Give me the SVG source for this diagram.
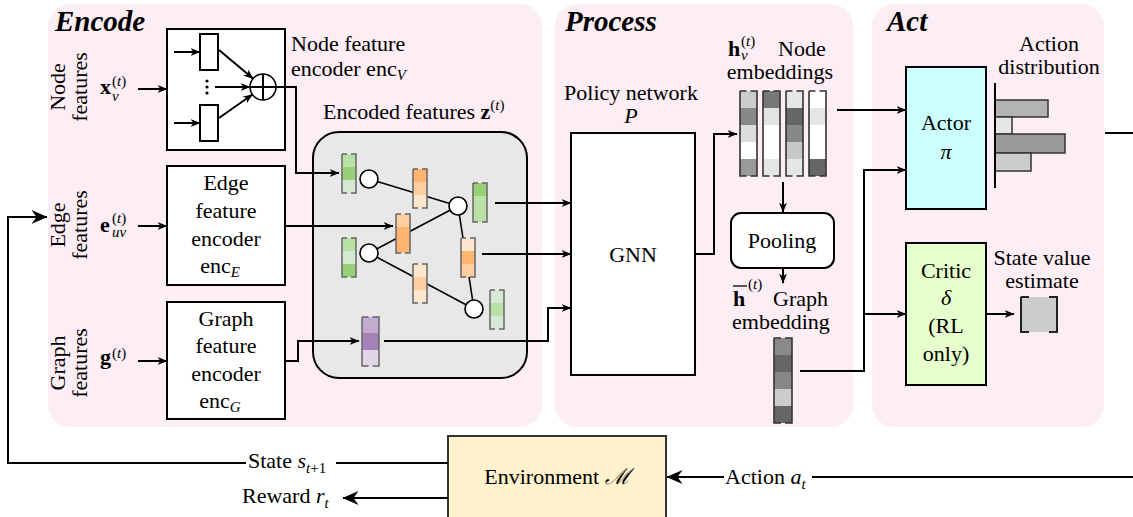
<svg xmlns="http://www.w3.org/2000/svg" width="1133" height="517" viewBox="0 0 1133 517" font-family="'Liberation Serif', 'Times New Roman', Tinos, 'DejaVu Serif', serif">
<style>
text{font-family:'Liberation Serif','Times New Roman',Tinos,'DejaVu Serif',serif;font-size:22px;fill:#000}
.title{font-size:29px;font-weight:bold;font-style:italic}
.panel{fill:#fdedf4}
.box{fill:#fff;stroke:#000;stroke-width:2}
.ln{fill:none;stroke:#000;stroke-width:2}
.edge{stroke:#000;stroke-width:1.6}
.nd{fill:#fff;stroke:#000;stroke-width:1.6}
.vb{fill:none;stroke:#666;stroke-width:1.5;stroke-dasharray:5 4 49 4 44 0}
.vbp{fill:none;stroke:#666;stroke-width:1.5;stroke-dasharray:6.5 4 62 4 55.5 0}
.vbe{fill:none;stroke:#333;stroke-width:1.6;stroke-dasharray:6.5 4 98 4 91.5 0}
.vbg{fill:none;stroke:#333;stroke-width:1.6;stroke-dasharray:7 4 99 4 92 0}
.it{font-style:italic}
.b{font-weight:bold}
.s{font-size:15px}
</style>
<defs>
<marker id="arr" viewBox="0 0 10 10" refX="9.5" refY="5" markerWidth="10" markerHeight="10" markerUnits="userSpaceOnUse" orient="auto">
<path d="M0,1 L10,5 L0,9 L3,5 z" fill="#000"/>
</marker>
<marker id="big" viewBox="0 0 16 16" refX="15.5" refY="8" markerWidth="16" markerHeight="16" markerUnits="userSpaceOnUse" orient="auto">
<path d="M0,1 L16,8 L0,15 L5,8 z" fill="#000"/>
</marker>
</defs>

<g id="panels">
<rect class="panel" x="48" y="4" width="494" height="423" rx="22"/>
<rect class="panel" x="555" y="4" width="298" height="423" rx="22"/>
<rect class="panel" x="872" y="4" width="232" height="423" rx="22"/>
<text class="title" x="55" y="31">Encode</text>
<text class="title" x="565" y="31">Process</text>
<text class="title" x="887" y="31">Act</text>
</g>

<g id="inputs">
<text transform="translate(65,87) rotate(-90)" text-anchor="middle">Node</text>
<text transform="translate(87,87) rotate(-90)" text-anchor="middle">features</text>
<text transform="translate(65,225) rotate(-90)" text-anchor="middle">Edge</text>
<text transform="translate(87,225) rotate(-90)" text-anchor="middle">features</text>
<text transform="translate(65,363) rotate(-90)" text-anchor="middle">Graph</text>
<text transform="translate(87,363) rotate(-90)" text-anchor="middle">features</text>
<text x="100" y="94"><tspan class="b">x</tspan><tspan class="s" x="112" y="86">(<tspan class="it">t</tspan>)</tspan><tspan class="s it" x="112" y="101">v</tspan></text>
<text x="100" y="232"><tspan class="b">e</tspan><tspan class="s" x="112" y="223">(<tspan class="it">t</tspan>)</tspan><tspan class="s it" x="112" y="237">uv</tspan></text>
<text x="100" y="364"><tspan class="b">g</tspan><tspan class="s" x="112" y="358">(<tspan class="it">t</tspan>)</tspan></text>
</g>

<g id="node-encoder">
<rect class="box" x="167" y="29" width="118" height="121"/>
<rect class="box" x="200" y="34" width="18" height="36"/>
<rect class="box" x="200" y="105" width="18" height="36"/>
<circle cx="207" cy="81" r="1.6"/><circle cx="207" cy="87" r="1.6"/><circle cx="207" cy="93" r="1.6"/>
<circle class="nd" cx="263" cy="87" r="13" stroke-width="2"/>
<path class="ln" d="M250,87 H276 M263,74 V100"/>
<text x="291" y="51">Node feature</text>
<text x="291" y="76">encoder enc<tspan class="it s" dy="4">V</tspan></text>
</g>

<g id="edge-encoder">
<rect class="box" x="167" y="166" width="118" height="119"/>
<text x="226" y="190" text-anchor="middle">Edge</text>
<text x="226" y="218" text-anchor="middle">feature</text>
<text x="226" y="246" text-anchor="middle">encoder</text>
<text x="220" y="273" text-anchor="middle">enc<tspan class="it s" dy="4">E</tspan></text>
</g>

<g id="graph-encoder">
<rect class="box" x="167" y="302" width="118" height="117"/>
<text x="226" y="326" text-anchor="middle">Graph</text>
<text x="226" y="353" text-anchor="middle">feature</text>
<text x="226" y="381" text-anchor="middle">encoder</text>
<text x="220" y="408" text-anchor="middle">enc<tspan class="it s" dy="4">G</tspan></text>
</g>

<g id="encoded-features">
<text x="323" y="119">Encoded features <tspan class="b">z</tspan><tspan class="s" dy="-9">(</tspan><tspan class="s it">t</tspan><tspan class="s">)</tspan></text>
<rect x="313" y="132" width="214" height="246" rx="26" fill="#e8e8e8" stroke="#000" stroke-width="2"/>
<line class="edge" x1="369" y1="179" x2="458" y2="206"/>
<line class="edge" x1="369" y1="253" x2="458" y2="206"/>
<line class="edge" x1="458" y1="206" x2="474" y2="309"/>
<line class="edge" x1="369" y1="253" x2="474" y2="309"/>
<circle class="nd" cx="369" cy="179" r="9"/>
<circle class="nd" cx="458" cy="206" r="9"/>
<circle class="nd" cx="369" cy="253" r="9"/>
<circle class="nd" cx="474" cy="309" r="9"/>
<g transform="translate(342,154)"><rect width="14" height="13" fill="#b9e0a5"/><rect y="13" width="14" height="13" fill="#97d077"/><rect y="26" width="14" height="13" fill="#d5e8d4"/><rect class="vb" width="14" height="39"/></g>
<g transform="translate(473,183)"><rect width="14" height="13" fill="#97d077"/><rect y="13" width="14" height="26" fill="#b9e0a5"/><rect class="vb" width="14" height="39"/></g>
<g transform="translate(342,238)"><rect width="14" height="13" fill="#b9e0a5"/><rect y="13" width="14" height="13" fill="#d5e8d4"/><rect y="26" width="14" height="13" fill="#97d077"/><rect class="vb" width="14" height="39"/></g>
<g transform="translate(490,290)"><rect width="14" height="13" fill="#d5e8d4"/><rect y="13" width="14" height="13" fill="#b9e0a5"/><rect y="26" width="14" height="13" fill="#d5e8d4"/><rect class="vb" width="14" height="39"/></g>
<g transform="translate(413,169)"><rect width="14" height="13" fill="#ffb570"/><rect y="13" width="14" height="13" fill="#ffce9f"/><rect y="26" width="14" height="13" fill="#ffe6cc"/><rect class="vb" width="14" height="39"/></g>
<g transform="translate(396,214)"><rect width="14" height="13" fill="#ffce9f"/><rect y="13" width="14" height="26" fill="#ffb570"/><rect class="vb" width="14" height="39"/></g>
<g transform="translate(461,238)"><rect width="14" height="13" fill="#ffe6cc"/><rect y="13" width="14" height="13" fill="#ffb570"/><rect y="26" width="14" height="13" fill="#ffce9f"/><rect class="vb" width="14" height="39"/></g>
<g transform="translate(413,264)"><rect width="14" height="13" fill="#ffe6cc"/><rect y="13" width="14" height="13" fill="#ffce9f"/><rect y="26" width="14" height="13" fill="#ffe6cc"/><rect class="vb" width="14" height="39"/></g>
<g transform="translate(362,317)"><rect width="17" height="16" fill="#c3abd0"/><rect y="16" width="17" height="17" fill="#a680b8"/><rect y="33" width="17" height="16" fill="#e1d5e7"/><rect class="vbp" width="17" height="49"/></g>
</g>

<g id="gnn">
<text x="631" y="100" text-anchor="middle">Policy network</text>
<text x="631" y="123" text-anchor="middle" class="it">P</text>
<rect class="box" x="571" y="133" width="124" height="242"/>
<text x="633" y="262" text-anchor="middle">GNN</text>
</g>

<g id="node-embeddings">
<text x="728" y="56"><tspan class="b">h</tspan><tspan class="s" x="741" y="46">(<tspan class="it">t</tspan>)</tspan><tspan class="s it" x="741" y="60">v</tspan><tspan x="778" y="56">Node</tspan></text>
<text x="780" y="79" text-anchor="middle">embeddings</text>
<g transform="translate(740,91)"><rect width="17" height="17" fill="#cccccc"/><rect y="17" width="17" height="17" fill="#888888"/><rect y="34" width="17" height="17" fill="#dddddd"/><rect y="51" width="17" height="17" fill="#ffffff"/><rect y="68" width="17" height="17" fill="#999999"/><rect class="vbe" width="17" height="85"/></g>
<g transform="translate(763,91)"><rect width="17" height="17" fill="#777777"/><rect y="17" width="17" height="17" fill="#e3e3e3"/><rect y="34" width="17" height="17" fill="#ffffff"/><rect y="51" width="17" height="17" fill="#ffffff"/><rect y="68" width="17" height="17" fill="#e6e6e6"/><rect class="vbe" width="17" height="85"/></g>
<g transform="translate(786,91)"><rect width="17" height="17" fill="#e6e6e6"/><rect y="17" width="17" height="17" fill="#666666"/><rect y="34" width="17" height="17" fill="#888888"/><rect y="51" width="17" height="17" fill="#c8c8c8"/><rect y="68" width="17" height="17" fill="#e6e6e6"/><rect class="vbe" width="17" height="85"/></g>
<g transform="translate(809,91)"><rect width="17" height="17" fill="#ffffff"/><rect y="17" width="17" height="17" fill="#e6e6e6"/><rect y="34" width="17" height="17" fill="#ffffff"/><rect y="51" width="17" height="17" fill="#ffffff"/><rect y="68" width="17" height="17" fill="#666666"/><rect class="vbe" width="17" height="85"/></g>
</g>

<g id="pooling">
<rect class="box" x="731" y="213" width="103" height="55" rx="10"/>
<text x="782" y="248" text-anchor="middle">Pooling</text>
</g>

<g id="graph-embedding">
<line x1="733" y1="286" x2="747" y2="286" stroke="#000" stroke-width="1.3"/>
<text x="733" y="306"><tspan class="b">h</tspan><tspan class="s" x="748" y="289">(<tspan class="it">t</tspan>)</tspan><tspan x="773" y="306">Graph</tspan></text>
<text x="781" y="329" text-anchor="middle">embedding</text>
<g transform="translate(774,338)"><rect width="18" height="17" fill="#8a8a8a"/><rect y="17" width="18" height="17" fill="#666666"/><rect y="34" width="18" height="17" fill="#888888"/><rect y="51" width="18" height="17" fill="#cccccc"/><rect y="68" width="18" height="17" fill="#666666"/><rect class="vbg" width="18" height="85"/></g>
</g>

<g id="actor">
<rect x="906" y="67" width="80" height="142" fill="#ccffff" stroke="#000" stroke-width="2"/>
<text x="946" y="130" text-anchor="middle">Actor</text>
<text x="946" y="159" text-anchor="middle" class="it">π</text>
</g>

<g id="action-distribution">
<text x="1049" y="51" text-anchor="middle">Action</text>
<text x="1049" y="74" text-anchor="middle">distribution</text>
<rect x="995" y="100" width="53" height="17" fill="#b3b3b3" stroke="#333" stroke-width="1.5"/>
<rect x="995" y="117" width="17" height="17" fill="#e6e6e6" stroke="#333" stroke-width="1.5"/>
<rect x="995" y="134" width="70" height="19" fill="#999999" stroke="#333" stroke-width="1.5"/>
<rect x="995" y="153" width="36" height="18" fill="#cccccc" stroke="#333" stroke-width="1.5"/>
<line x1="995" y1="83" x2="995" y2="188" stroke="#000" stroke-width="2"/>
</g>

<g id="critic">
<rect x="906" y="243" width="80" height="142" fill="#e6ffcc" stroke="#000" stroke-width="2"/>
<text x="946" y="278" text-anchor="middle">Critic</text>
<text x="946" y="305" text-anchor="middle" class="it">δ</text>
<text x="946" y="333" text-anchor="middle" font-size="20">(RL</text>
<text x="946" y="361" text-anchor="middle" font-size="20">only)</text>
</g>

<g id="state-value">
<text x="1042" y="265" text-anchor="middle">State value</text>
<text x="1042" y="288" text-anchor="middle">estimate</text>
<rect x="1021" y="297" width="36" height="35" fill="#cccccc" stroke="#222" stroke-width="2" stroke-dasharray="8 20 51 20 43 0"/>
</g>

<g id="environment">
<rect x="448" y="436" width="218" height="95" fill="#fff2cc" stroke="#333" stroke-width="2"/>
<text x="557" y="484" text-anchor="middle">Environment <tspan class="it">ℳ</tspan></text>
</g>

<g id="connectors">
<path class="ln" d="M174,52 H200" marker-end="url(#arr)"/>
<path class="ln" d="M174,123 H200" marker-end="url(#arr)"/>
<path class="ln" d="M219,50 L253,78.6" marker-end="url(#arr)"/>
<path class="ln" d="M219,118 L252.4,94.5" marker-end="url(#arr)"/>
<path class="ln" d="M215,87 H250" marker-end="url(#arr)"/>
<path class="ln" d="M138,89 H167" marker-end="url(#arr)"/>
<path class="ln" d="M138,226 H167" marker-end="url(#arr)"/>
<path class="ln" d="M138,361 H167" marker-end="url(#arr)"/>
<path class="ln" d="M276,87 H296 V173 H339" marker-end="url(#arr)"/>
<path class="ln" d="M285,226 H393" marker-end="url(#arr)"/>
<path class="ln" d="M285,361 H298 V341 H359" marker-end="url(#arr)"/>
<path class="ln" d="M495,203 H571" marker-end="url(#arr)"/>
<path class="ln" d="M482,254 H571" marker-end="url(#arr)"/>
<path class="ln" d="M384,341 H548 V308 H571" marker-end="url(#arr)"/>
<path class="ln" d="M695,254 H714 V134 H737" marker-end="url(#arr)"/>
<path class="ln" d="M783,182 V212" marker-end="url(#arr)"/>
<path class="ln" d="M783,268 V283" marker-end="url(#arr)"/>
<path class="ln" d="M837,110 H906" marker-end="url(#arr)"/>
<path class="ln" d="M800,371 H864 V170 H906" marker-end="url(#arr)"/>
<path class="ln" d="M864,314 H906" marker-end="url(#arr)"/>
<path class="ln" d="M986,314 H1014" marker-end="url(#arr)"/>
<path class="ln" d="M1105,133 H1133"/>
<path class="ln" d="M448,463 H8 V217 H47" marker-end="url(#big)"/>
<path class="ln" d="M448,498 H343" marker-end="url(#big)"/>
<path class="ln" d="M1133,477 H667" marker-end="url(#big)"/>
<rect x="246" y="450" width="90" height="26" fill="#fff"/>
<text x="248" y="468">State <tspan class="it">s</tspan><tspan class="s it" dy="5">t</tspan><tspan class="s">+1</tspan></text>
<text x="242" y="503">Reward <tspan class="it">r</tspan><tspan class="s it" dy="5">t</tspan></text>
<rect x="724" y="464" width="88" height="26" fill="#fff"/>
<text x="725" y="484">Action <tspan class="it">a</tspan><tspan class="s it" dy="5">t</tspan></text>
</g>
</svg>
